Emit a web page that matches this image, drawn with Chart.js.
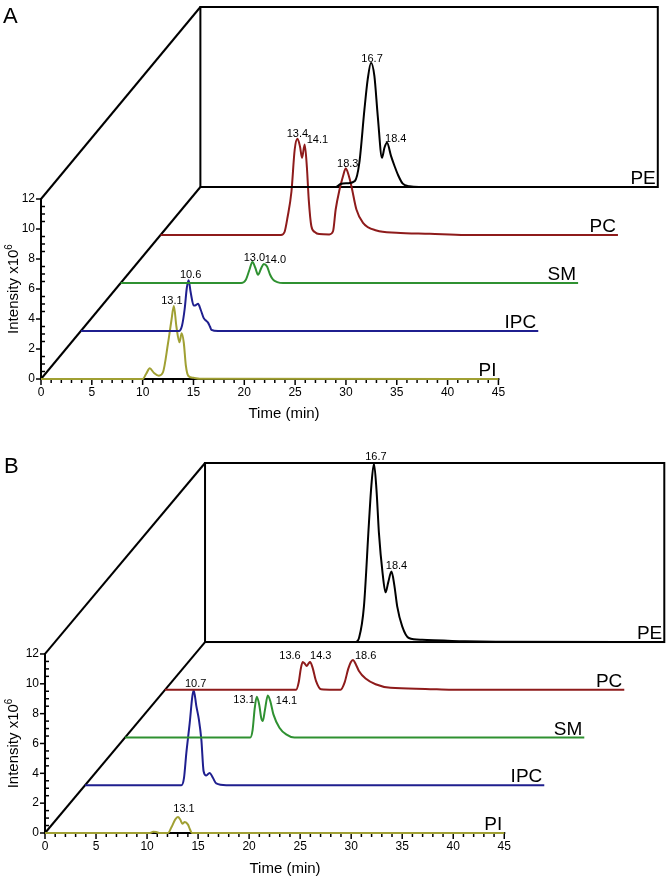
<!DOCTYPE html>
<html>
<head>
<meta charset="utf-8">
<title>Waterfall chromatograms</title>
<script src="https://cdn.jsdelivr.net/npm/chart.js@4.4.1/dist/chart.umd.min.js"></script>
<style>
  body { margin: 0; background: #fff; width: 666px; height: 880px; overflow: hidden; }
  canvas { display: block; }
</style>
</head>
<body>
<canvas id="panelA" width="666" height="440"></canvas>
<canvas id="panelB" width="666" height="440"></canvas>
<script>
/* ---------- shared ---------- */
const traceNames = ["PI", "IPC", "SM", "PC", "PE"];
const traceColors = ["#a0a033", "#1f1f8f", "#2f9131", "#8e1b1b", "#000000"];
const xTickLabels = [0, 5, 10, 15, 20, 25, 30, 35, 40, 45];
const yTickLabels = [0, 2, 4, 6, 8, 10, 12];

/* ---------- panel A : time (min) / intensity x10^6 ---------- */
const aTimePI = [0, 10.0, 10.35, 10.7, 11.1, 11.6, 12.0, 12.5, 12.83, 13.07, 13.32, 13.62, 13.84, 14.05, 14.25, 14.5, 15.0, 15.6, 45];
const aIntPI  = [0, 0, 0.35, 0.71, 0.42, 0.22, 0.45, 2.4, 3.9, 4.87, 3.5, 2.45, 3.05, 2.4, 0.9, 0.2, 0.08, 0.02, 0];
const aTimeIPC = [0, 9.65, 9.95, 10.22, 10.42, 10.6, 10.8, 11.1, 11.3, 11.53, 11.8, 12.09, 12.3, 12.51, 12.7, 12.85, 13.5, 45];
const aIntIPC  = [0, 0, 0.35, 1.5, 2.85, 3.38, 2.6, 1.7, 1.72, 1.81, 1.4, 0.86, 0.7, 0.56, 0.3, 0.08, 0, 0];
const aTimeSM = [0, 11.85, 12.3, 12.65, 12.96, 13.25, 13.51, 13.8, 14.07, 14.4, 14.7, 14.99, 15.4, 15.97, 45];
const aIntSM  = [0, 0, 0.2, 0.85, 1.40, 1.0, 0.55, 0.95, 1.27, 1.1, 0.55, 0.22, 0.06, 0, 0];
const aTimePC = [0, 11.85, 12.2, 12.5, 12.88, 13.2, 13.47, 13.72, 13.92, 14.18, 14.4, 14.58, 14.84, 15.17, 15.6, 16.6, 16.97, 17.23, 17.6, 17.95, 18.22, 18.5, 18.78, 19.27, 19.92, 21.24, 23.2, 26.5, 30.0, 45];
const aIntPC  = [0, 0, 0.2, 1.2, 2.9, 5.7, 6.41, 5.9, 5.14, 6.03, 4.5, 2.36, 0.58, 0.2, 0.06, 0.04, 0.25, 1.7, 3.0, 3.92, 4.43, 4.0, 3.25, 1.7, 0.81, 0.30, 0.15, 0.08, 0, 0];
const aTimePE = [0, 13.3, 13.8, 14.5, 15.2, 15.64, 16.14, 16.46, 16.79, 17.12, 17.45, 17.87, 18.1, 18.36, 18.76, 19.1, 19.42, 19.91, 20.57, 21.5, 45];
const aIntPE  = [0, 0, 0.2, 0.25, 0.4, 1.62, 5.17, 7.17, 8.29, 7.39, 4.73, 1.95, 2.6, 2.95, 2.06, 1.4, 0.84, 0.22, 0.05, 0, 0];

const aPeakTrace = ["PI", "IPC", "SM", "SM", "PC", "PC", "PC", "PE", "PE"];
const aPeakTime  = [13.07, 10.6, 12.96, 14.07, 13.47, 14.18, 18.22, 16.79, 18.36];
const aPeakText  = ["13.1", "10.6", "13.0", "14.0", "13.4", "14.1", "18.3", "16.7", "18.4"];
const aPeakAlign = ["center", "center", "center", "left", "center", "left", "center", "center", "left"];
const aPeakDx    = [-2, 2, 2, 1, 0, 2, 2, 1, -2];
const aPeakDy    = [-2, -2, -1, -1, -2, -2, -2, -1, -1];

/* ---------- panel B ---------- */
const bTimePI = [0, 10.3, 10.6, 10.9, 11.2, 12.05, 12.4, 12.75, 13.03, 13.25, 13.46, 13.69, 14.01, 14.2, 14.4, 45];
const bIntPI  = [0, 0, 0.08, 0.06, 0, 0, 0.4, 0.9, 1.07, 0.9, 0.62, 0.74, 0.56, 0.25, 0, 0];
const bTimeIPC = [0, 9.44, 9.7, 9.93, 10.26, 10.52, 10.65, 10.91, 11.16, 11.4, 11.62, 11.88, 12.21, 12.53, 12.86, 13.84, 45];
const bIntIPC  = [0, 0, 0.5, 2.17, 4.18, 5.97, 6.37, 5.30, 4.40, 3.06, 0.94, 0.65, 0.83, 0.5, 0.12, 0, 0];
const bTimeSM = [0, 12.27, 12.5, 12.7, 12.91, 13.15, 13.35, 13.5, 13.7, 13.99, 14.25, 14.54, 15.13, 15.79, 16.6, 45];
const bIntSM  = [0, 0, 0.5, 1.9, 2.74, 2.2, 1.3, 1.10, 1.8, 2.82, 2.4, 1.55, 0.66, 0.21, 0, 0];
const bTimePC = [0, 12.84, 13.1, 13.3, 13.49, 13.7, 13.88, 14.05, 14.21, 14.45, 14.8, 15.29, 16.5, 17.2, 17.6, 17.95, 18.2, 18.41, 18.7, 19.0, 19.65, 20.63, 22.09, 25.52, 28.1, 45];
const bIntPC  = [0, 0, 0.5, 1.4, 1.86, 1.75, 1.6, 1.75, 1.86, 1.5, 0.58, 0.03, 0, 0, 0.5, 1.4, 1.85, 2.0, 1.7, 1.26, 0.75, 0.37, 0.13, 0.06, 0, 0];
const bTimePE = [0, 14.75, 15.1, 15.57, 16.06, 16.3, 16.55, 16.8, 17.04, 17.4, 17.69, 17.95, 18.27, 18.55, 18.83, 19.32, 19.97, 21.27, 25.47, 28.5, 45];
const bIntPE  = [0, 0, 0.3, 2.39, 7.98, 10.5, 11.95, 10.2, 7.3, 4.6, 3.33, 4.0, 4.73, 3.8, 2.39, 1.05, 0.27, 0.15, 0.05, 0.02, 0];

const bPeakTrace = ["PI", "IPC", "SM", "SM", "PC", "PC", "PC", "PE", "PE"];
const bPeakTime  = [13.03, 10.65, 12.91, 13.99, 13.49, 14.21, 18.41, 16.55, 18.27];
const bPeakText  = ["13.1", "10.7", "13.1", "14.1", "13.6", "14.3", "18.6", "16.7", "18.4"];
const bPeakAlign = ["center", "center", "right", "left", "right", "left", "left", "center", "center"];
const bPeakDx    = [6, 2, -2, 8, -2, 0, 2, 2, 5];
const bPeakDy    = [-5, -3, 6, 9, -3, -3, -1, -4, -2];

/* ------------------------------------------------------------
   waterfall frame, axes and labels
------------------------------------------------------------ */
const FONT = "'Liberation Sans', Arial, sans-serif";

function seg(ctx, x1, y1, x2, y2) {
  ctx.beginPath();
  ctx.moveTo(x1, y1);
  ctx.lineTo(x2, y2);
  ctx.stroke();
}

const waterfall = {
  id: "waterfall",
  beforeDatasetsDraw(chart, args, o) {
    const { ctx } = chart;
    const X = v => chart.scales.x.getPixelForValue(v);
    const Y = v => chart.scales.y.getPixelForValue(v);
    const xEnd = xTickLabels[xTickLabels.length - 1];
    const yEnd = yTickLabels[yTickLabels.length - 1];
    const back = traceNames.length - 1;
    const bx = back * o.offX, by = back * o.offY;

    ctx.save();
    ctx.strokeStyle = "#000";
    ctx.fillStyle = "#000";
    ctx.lineWidth = 2;

    // depth lines and back wall
    seg(ctx, X(0), Y(0), X(bx), Y(by));
    seg(ctx, X(0), Y(yEnd), X(bx), Y(by + yEnd));
    ctx.strokeRect(X(bx), Y(by + yEnd), X(bx + xEnd) - X(bx), Y(by) - Y(by + yEnd));

    // x axis
    seg(ctx, X(0) - 1, Y(0), X(xEnd) + 1, Y(0));
    ctx.lineWidth = 1.5;
    for (let t = 0; t <= xEnd; t++) {
      const len = t % 5 === 0 ? 6 : 4;
      seg(ctx, X(t), Y(0), X(t), Y(0) + len);
    }
    ctx.font = "12px " + FONT;
    ctx.textAlign = "center";
    ctx.textBaseline = "middle";
    xTickLabels.forEach(t => ctx.fillText(String(t), X(t), Y(0) + 14));

    // y axis
    ctx.lineWidth = 2;
    seg(ctx, X(0), Y(0) + 1, X(0), Y(yEnd) - 1);
    ctx.lineWidth = 1.5;
    for (let v = 0; v <= yEnd; v += 0.5) {
      if (v % 2 === 0) seg(ctx, X(0), Y(v), X(0) - 5, Y(v));
      else seg(ctx, X(0), Y(v), X(0) + 4, Y(v));
    }
    ctx.textAlign = "right";
    yTickLabels.forEach(v => ctx.fillText(String(v), X(0) - 6, Y(v)));

    // axis titles
    ctx.font = "15px " + FONT;
    ctx.textAlign = "center";
    ctx.textBaseline = "middle";
    ctx.fillText("Time (min)", X(0) + o.titleDx, Y(0) + o.titleDy);

    const main = "Intensity x10", sup = "6";
    ctx.save();
    ctx.translate(18, (Y(0) + Y(yEnd)) / 2);
    ctx.rotate(-Math.PI / 2);
    ctx.textBaseline = "alphabetic";
    ctx.textAlign = "left";
    const w1 = ctx.measureText(main).width;
    ctx.font = "10px " + FONT;
    const w2 = ctx.measureText(sup).width;
    const x0 = -(w1 + w2) / 2;
    ctx.font = "15px " + FONT;
    ctx.fillText(main, x0, 0);
    ctx.font = "10px " + FONT;
    ctx.fillText(sup, x0 + w1, -6);
    ctx.restore();

    // panel letter
    ctx.font = "22px " + FONT;
    ctx.textAlign = "left";
    ctx.textBaseline = "alphabetic";
    ctx.fillText(o.letter, o.letterX, o.letterY);
    ctx.restore();
  },
  afterDatasetsDraw(chart, args, o) {
    const { ctx } = chart;
    const X = v => chart.scales.x.getPixelForValue(v);
    const Y = v => chart.scales.y.getPixelForValue(v);
    const xEnd = xTickLabels[xTickLabels.length - 1];
    ctx.save();
    ctx.fillStyle = "#000";

    // trace names at the end of each baseline
    ctx.font = "19px " + FONT;
    ctx.textAlign = "right";
    ctx.textBaseline = "alphabetic";
    traceNames.forEach((n, k) => {
      ctx.fillText(n, X(xEnd + k * o.offX) - 2, Y(k * o.offY) - 3);
    });

    // peak retention labels
    ctx.font = "11px " + FONT;
    o.peaks.forEach(p => {
      const meta = chart.getDatasetMeta(traceNames.indexOf(p.trace));
      const pt = meta.data[p.index];
      ctx.textAlign = p.align;
      ctx.fillText(p.text, pt.x + p.dx, pt.y + p.dy);
    });
    ctx.restore();
  }
};

function buildDatasets(times, ints, offX, offY) {
  return traceNames.map((name, k) => ({
    label: name,
    data: times[k].map((t, i) => ({ x: t + k * offX, y: ints[k][i] + k * offY })),
    borderColor: traceColors[k],
    borderWidth: 2,
    pointRadius: 0,
    fill: false,
    cubicInterpolationMode: "monotone",
    clip: false,
    order: traceNames.length - k
  }));
}

function buildPeaks(times, trace, time, text, align, dx, dy) {
  return trace.map((tr, i) => {
    const k = traceNames.indexOf(tr);
    return {
      trace: tr,
      index: times[k].indexOf(time[i]),
      text: text[i], align: align[i], dx: dx[i], dy: dy[i]
    };
  });
}

function makePanel(id, times, ints, peaks, geo) {
  return new Chart(document.getElementById(id), {
    type: "line",
    data: { datasets: buildDatasets(times, ints, geo.offX, geo.offY) },
    options: {
      responsive: false,
      animation: false,
      devicePixelRatio: 1,
      layout: { padding: geo.padding },
      scales: {
        x: { type: "linear", display: false, min: 0, max: geo.xMax },
        y: { type: "linear", display: false, min: 0, max: geo.yMax }
      },
      plugins: {
        legend: { display: false },
        tooltip: { enabled: false },
        waterfall: {
          offX: geo.offX, offY: geo.offY, peaks,
          letter: geo.letter, letterX: geo.letterX, letterY: geo.letterY,
          titleDx: geo.titleDx, titleDy: geo.titleDy
        }
      }
    },
    plugins: [waterfall]
  });
}

const aTimes = [aTimePI, aTimeIPC, aTimeSM, aTimePC, aTimePE];
const aInts  = [aIntPI, aIntIPC, aIntSM, aIntPC, aIntPE];
const bTimes = [bTimePI, bTimeIPC, bTimeSM, bTimePC, bTimePE];
const bInts  = [bIntPI, bIntIPC, bIntSM, bIntPC, bIntPE];

makePanel("panelA", aTimes, aInts,
  buildPeaks(aTimes, aPeakTrace, aPeakTime, aPeakText, aPeakAlign, aPeakDx, aPeakDy),
  { offX: 3.92, offY: 3.2, xMax: 60.7, yMax: 24.8,
    padding: { left: 41, right: 8, top: 7, bottom: 61 },
    letter: "A", letterX: 3, letterY: 23, titleDx: 243, titleDy: 35 });

makePanel("panelB", bTimes, bInts,
  buildPeaks(bTimes, bPeakTrace, bPeakTime, bPeakText, bPeakAlign, bPeakDx, bPeakDy),
  { offX: 3.92, offY: 3.2, xMax: 60.7, yMax: 24.8,
    padding: { left: 45, right: 1.5, top: 23, bottom: 47 },
    letter: "B", letterX: 4, letterY: 33, titleDx: 240, titleDy: 36 });
</script>
</body>
</html>
